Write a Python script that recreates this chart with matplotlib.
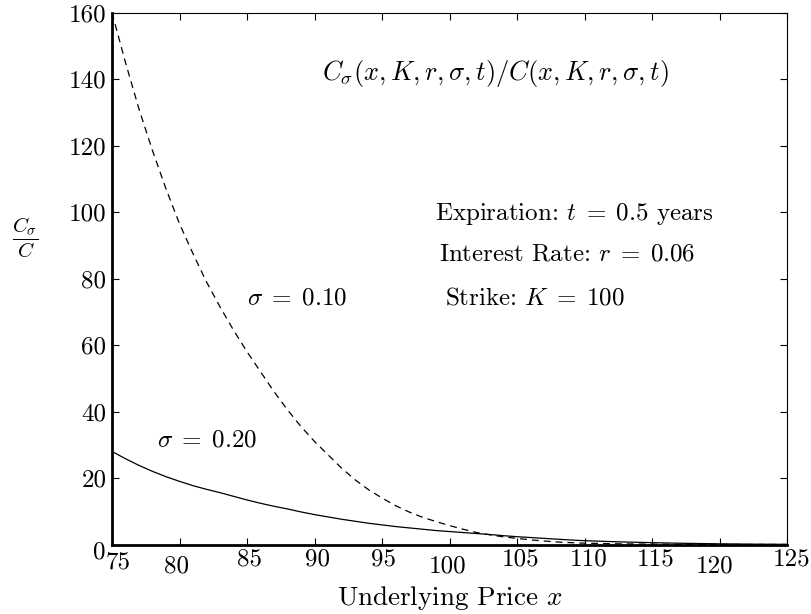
import matplotlib
matplotlib.use("Agg")
import matplotlib.pyplot as plt
from matplotlib.transforms import ScaledTranslation

plt.rcParams['font.family'] = 'serif'
plt.rcParams['font.serif'] = ['cmr10']
plt.rcParams['mathtext.fontset'] = 'cm'
plt.rcParams['axes.formatter.use_mathtext'] = True

# ---- data ----
x_price = [75, 76, 77, 78, 79, 80, 81, 82, 83, 84, 85, 86, 87, 88, 89, 90,
           91, 92, 93, 94, 95, 96, 97, 98, 99, 100, 101, 102, 103, 104, 105,
           106, 107, 108, 109, 110, 112.5, 115, 117.5, 120, 122.5, 125]
ratio_sigma_010 = [160, 145, 131, 118.5, 107, 96.5, 87.5, 79, 71.5, 64.5, 58,
                   52, 46, 40.5, 35.5, 31, 27, 23, 19.5, 16.5, 14, 11.7, 9.8,
                   8.2, 6.9, 5.7, 4.6, 3.6, 2.9, 2.3, 1.85, 1.4, 1.05, 0.75,
                   0.55, 0.4, 0.2, 0.1, 0.05, 0.02, 0.01, 0.005]
ratio_sigma_020 = [28, 25.8, 23.8, 22, 20.4, 19, 17.7, 16.6, 15.6, 14.5, 13.4,
                   12.4, 11.5, 10.7, 9.8, 9, 8.3, 7.6, 7, 6.4, 5.9, 5.4, 5.0,
                   4.6, 4.2, 3.9, 3.6, 3.3, 3.0, 2.65, 2.35, 2.1, 1.85, 1.6,
                   1.35, 1.15, 0.8, 0.55, 0.35, 0.2, 0.1, 0.05]
x_ticks = [75, 80, 85, 90, 95, 100, 105, 110, 115, 120, 125]
y_ticks = [0, 20, 40, 60, 80, 100, 120, 140, 160]

fig = plt.figure(figsize=(8.12, 6.14), dpi=100)
ax = fig.add_axes([112 / 812, 69.5 / 614, 675 / 812, 531.8 / 614])

ax.plot(x_price, ratio_sigma_010, color='black', lw=0.9, dashes=(5.5, 4))
ax.plot(x_price, ratio_sigma_020, color='black', lw=0.9)

ax.set_xlim(75, 125)
ax.set_ylim(0, 160)
ax.set_xticks(x_ticks)
ax.set_yticks(y_ticks)
ax.set_xticklabels([str(v) for v in x_ticks])
ax.set_yticklabels([str(v) for v in y_ticks])

ax.tick_params(direction='in', length=5, width=0.8, top=True, right=True,
               labelsize=18)
ax.tick_params(axis='x', pad=2.5)
ax.tick_params(axis='y', pad=4)

for side in ['left', 'bottom']:
    ax.spines[side].set_linewidth(2.0)
for side in ['top', 'right']:
    ax.spines[side].set_linewidth(0.8)

# slight irregular placement of tick labels, as in the reference
x_off = [6, -3, 3, 3, 2, -2, 4, 4, 4, -5, 5]
y_off = [3, 7, 0, 0, 0, 7, 0, 0, 0, 7, 0]
for lab, dx, dy in zip(ax.get_xticklabels(), x_off, y_off):
    lab.set_transform(lab.get_transform() +
                      ScaledTranslation(dx / 100, -dy / 100, fig.dpi_scale_trans))
ylabs = ax.get_yticklabels()
ylabs[0].set_transform(ylabs[0].get_transform() +
                       ScaledTranslation(-1 / 100, -5 / 100, fig.dpi_scale_trans))

ax.set_xlabel('Underlying Price $x$', fontsize=19.5, labelpad=5)
ax.set_ylabel(r'$\dfrac{C_\sigma}{C}$', fontsize=15, rotation=0,
              va='center', ha='center')
ax.yaxis.set_label_coords(-0.129, 0.576)

fs = 18
ax.text(90.56, 141.8, r'$C_\sigma(x,K,r,\sigma,t)/C(x,K,r,\sigma,t)$',
        fontsize=19, ha='left', va='center')
ax.text(98.93, 99.4, r'Expiration: $t\;=\;0.5$ years', fontsize=fs,
        ha='left', va='center')
ax.text(99.2, 87.4, r'Interest Rate: $r\;=\;0.06$', fontsize=fs,
        ha='left', va='center')
ax.text(99.7, 74.1, r'Strike: $K\;=\;100$', fontsize=fs, ha='left', va='center')
ax.text(85.0, 74.1, r'$\sigma\;=\;0.10$', fontsize=fs, ha='left', va='center')
ax.text(78.3, 31.4, r'$\sigma\;=\;0.20$', fontsize=fs, ha='left', va='center')

fig.savefig('out.png', dpi=100)
